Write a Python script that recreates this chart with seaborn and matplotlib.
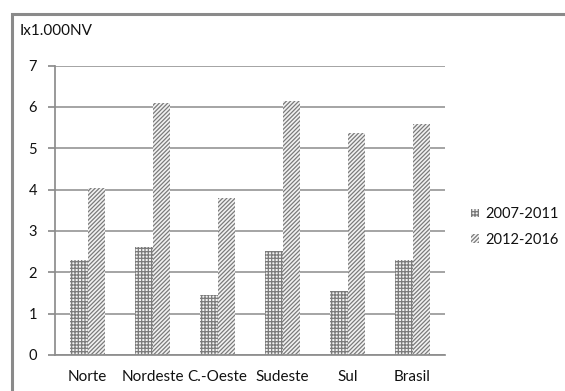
import matplotlib
matplotlib.use("Agg")
import matplotlib.pyplot as plt
import seaborn as sns
import pandas as pd
from matplotlib.patches import Rectangle, Patch

categories = ["Norte", "Nordeste", "C.-Oeste", "Sudeste", "Sul", "Brasil"]
series_names = ["2007-2011", "2012-2016"]
values_2007_2011 = [2.30, 2.60, 1.45, 2.52, 1.55, 2.30]
values_2012_2016 = [4.05, 6.10, 3.80, 6.15, 5.37, 5.58]
y_ticks = [0, 1, 2, 3, 4, 5, 6, 7]
unit_label = "Ix1.000NV"

sns.set_theme(style="white")
plt.rcParams["font.family"] = ["Lato", "DejaVu Sans"]
plt.rcParams["hatch.linewidth"] = 0.9

df = pd.DataFrame({
    "Região": categories * 2,
    "Período": [series_names[0]] * len(categories) + [series_names[1]] * len(categories),
    "Valor": values_2007_2011 + values_2012_2016,
})

fig = plt.figure(figsize=(5.65, 3.91), dpi=100)
ax = fig.add_axes([55 / 565, 1 - 355 / 391, 390 / 565, (355 - 65.5) / 391])

grey = "#8c8c8c"
hatch_grey = "#7a7a7a"
sns.barplot(data=df, x="Região", y="Valor", hue="Período", order=categories,
            hue_order=series_names, ax=ax, width=0.55, gap=0,
            legend=False, errorbar=None)

hatches = ["+++++", "////////"]
n = len(categories)
for i, p in enumerate(ax.patches[: 2 * n]):
    h = hatches[i // n]
    p.set_facecolor("#f2f2f2")
    p.set_edgecolor(hatch_grey)
    p.set_hatch(h)
    p.set_linewidth(0)

ax.set_ylim(0, 7)
ax.set_yticks(y_ticks)
ax.set_xlabel("")
ax.set_ylabel("")
ax.yaxis.grid(True, color=grey, linewidth=1.1)
ax.set_axisbelow(True)
for s in ["top", "right"]:
    ax.spines[s].set_visible(False)
ax.spines["left"].set_color(grey)
ax.spines["bottom"].set_color(grey)
ax.tick_params(axis="y", left=True, length=5, color=grey, labelsize=10.5, pad=8)
ax.tick_params(axis="x", bottom=False, labelsize=11, pad=5)
for t in ax.get_xticklabels() + ax.get_yticklabels():
    t.set_color("#111111")

fig.text(20 / 565, 1 - 31 / 391, unit_label, fontsize=11, va="center", ha="left", color="#111111")

handles = [Patch(facecolor="#f2f2f2", edgecolor=hatch_grey, hatch=hatches[k], linewidth=0, label=series_names[k])
           for k in range(2)]
leg = fig.legend(handles=handles, loc="center left", bbox_to_anchor=(458 / 565, 1 - 227 / 391),
                 frameon=False, fontsize=10.5, handlelength=0.55, handleheight=0.55,
                 handletextpad=0.4, labelspacing=0.8)
for t in leg.get_texts():
    t.set_color("#111111")

fig.patches.append(Rectangle((12 / 565, -0.05), 1.1, 1 - 14 / 391 + 0.05, transform=fig.transFigure,
                             fill=False, edgecolor="#8a8a8a", linewidth=2.2))

fig.savefig("out.png", dpi=100)
